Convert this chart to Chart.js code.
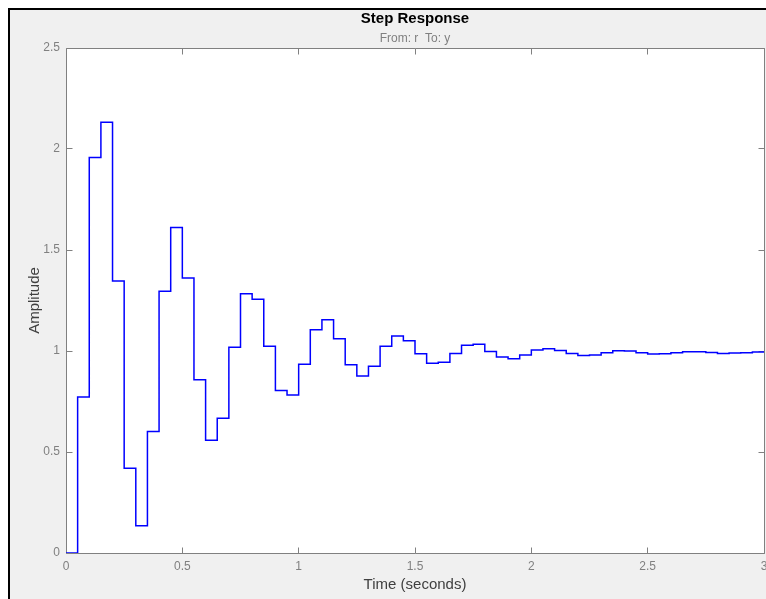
<!DOCTYPE html>
<html>
<head>
<meta charset="utf-8">
<style>
  html, body { margin: 0; padding: 0; background: #fff; }
  #wrap { width: 766px; height: 599px; }
</style>
</head>
<body>
<div id="wrap"><canvas id="stepChart" width="766" height="599"></canvas></div>
<script src="https://cdn.jsdelivr.net/npm/chart.js"></script>
<script>

// sample times (s) and step response amplitude
var timeValues = [
  0, 0.05, 0.1, 0.15, 0.2, 0.25, 0.3, 0.35, 0.4, 0.45,
  0.5, 0.55, 0.6, 0.65, 0.7, 0.75, 0.8, 0.85, 0.9, 0.95,
  1, 1.05, 1.1, 1.15, 1.2, 1.25, 1.3, 1.35, 1.4, 1.45,
  1.5, 1.55, 1.6, 1.65, 1.7, 1.75, 1.8, 1.85, 1.9, 1.95,
  2, 2.05, 2.1, 2.15, 2.2, 2.25, 2.3, 2.35, 2.4, 2.45,
  2.5, 2.55, 2.6, 2.65, 2.7, 2.75, 2.8, 2.85, 2.9, 2.95, 3
];
var amplitudeValues = [
  0, 0.772, 1.958, 2.133, 1.346, 0.420, 0.135, 0.601, 1.296, 1.611,
  1.362, 0.858, 0.558, 0.667, 1.019, 1.283, 1.256, 1.023, 0.805, 0.782,
  0.934, 1.105, 1.155, 1.061, 0.932, 0.876, 0.925, 1.023, 1.074, 1.051,
  0.987, 0.939, 0.944, 0.988, 1.029, 1.033, 0.998, 0.970, 0.962, 0.980,
  1.005, 1.011, 1.003, 0.988, 0.978, 0.980, 0.991, 1.001, 1.000, 0.991,
  0.985, 0.986, 0.991, 0.996, 0.996, 0.993, 0.988, 0.990, 0.991, 0.995, 0.995
];
var xTickValues = [0, 0.5, 1, 1.5, 2, 2.5, 3];
var yTickValues = [0, 0.5, 1, 1.5, 2, 2.5];

var titleText = 'Step Response';
var subtitleText = 'From: r  To: y';
var xTitleText = 'Time (seconds)';
var yTitleText = 'Amplitude';

var FONT = "'Liberation Sans', Arial, sans-serif";
var AXIS_GRAY = '#808080';

// figure background, black frame, white axes box, inward ticks
var framePlugin = {
  id: 'frame',
  beforeDraw: function(chart) {
    var ctx = chart.ctx, a = chart.chartArea;
    ctx.save();
    ctx.fillStyle = '#ffffff';
    ctx.fillRect(0, 0, chart.width, chart.height);
    ctx.fillStyle = '#f0f0f0';
    ctx.fillRect(8, 8, chart.width - 8, chart.height - 8);
    ctx.fillStyle = '#000000';
    ctx.fillRect(8, 8, chart.width - 8, 2);
    ctx.fillRect(8, 8, 2, chart.height - 8);
    ctx.fillStyle = '#ffffff';
    ctx.fillRect(a.left, a.top, a.right - a.left, a.bottom - a.top);
    ctx.restore();
  },
  beforeDatasetsDraw: function(chart) {
    var ctx = chart.ctx, a = chart.chartArea;
    var xs = chart.scales.x, ys = chart.scales.y;
    var L = Math.floor(a.left) + 0.5, R = Math.floor(a.right) + 0.5;
    var T = Math.floor(a.top) + 0.5, B = Math.floor(a.bottom) + 0.5;
    ctx.save();
    ctx.strokeStyle = AXIS_GRAY;
    ctx.lineWidth = 1;
    ctx.beginPath();
    ctx.rect(L, T, R - L, B - T);
    xs.ticks.forEach(function(t) {
      var px = Math.floor(xs.getPixelForValue(t.value)) + 0.5;
      ctx.moveTo(px, B); ctx.lineTo(px, B - 6);
      ctx.moveTo(px, T); ctx.lineTo(px, T + 6);
    });
    ys.ticks.forEach(function(t) {
      var py = Math.floor(ys.getPixelForValue(t.value)) + 0.5;
      ctx.moveTo(L, py); ctx.lineTo(L + 6, py);
      ctx.moveTo(R, py); ctx.lineTo(R - 6, py);
    });
    ctx.stroke();
    ctx.restore();
  }
};

var points = timeValues.map(function(t, i) {
  return { x: t, y: amplitudeValues[i] };
});

function plainLabel(v) { return String(v); }

new Chart(document.getElementById('stepChart'), {
  type: 'line',
  data: {
    datasets: [{
      data: points,
      stepped: true,
      borderColor: '#0000ff',
      borderWidth: 1.5,
      pointRadius: 0,
      fill: false
    }]
  },
  plugins: [framePlugin],
  options: {
    responsive: false,
    animation: false,
    devicePixelRatio: 1,
    layout: {
      autoPadding: false,
      padding: { left: 0, right: 2, top: 0, bottom: 0 }
    },
    plugins: {
      legend: { display: false },
      tooltip: { enabled: false },
      title: {
        display: true,
        fullSize: false,
        text: titleText,
        color: '#000000',
        font: { family: FONT, size: 15, weight: 'bold' },
        padding: { top: 9.9, bottom: 0 }
      },
      subtitle: {
        display: true,
        fullSize: false,
        text: subtitleText,
        color: '#808080',
        font: { family: FONT, size: 12 },
        padding: { top: 4, bottom: 1.7 }
      }
    },
    scales: {
      x: {
        type: 'linear',
        min: 0,
        max: 3,
        grid: { display: false, drawTicks: false },
        border: { display: false },
        afterBuildTicks: function(s) {
          s.ticks = xTickValues.map(function(v) { return { value: v }; });
        },
        afterFit: function(s) {
          s.height = 46;
          s.paddingLeft = 0;
          s.paddingRight = 0;
        },
        ticks: {
          color: AXIS_GRAY,
          font: { family: FONT, size: 12 },
          padding: 6,
          maxRotation: 0,
          callback: plainLabel
        },
        title: {
          display: true,
          text: xTitleText,
          color: '#404040',
          font: { family: FONT, size: 15 },
          padding: { top: 0, bottom: 5.5 }
        }
      },
      y: {
        type: 'linear',
        min: 0,
        max: 2.5,
        grid: { display: false, drawTicks: false },
        border: { display: false },
        afterBuildTicks: function(s) {
          s.ticks = yTickValues.map(function(v) { return { value: v }; });
        },
        afterFit: function(s) {
          s.width = 66;
          s.paddingTop = 0;
          s.paddingBottom = 0;
        },
        ticks: {
          color: AXIS_GRAY,
          font: { family: FONT, size: 12 },
          padding: 6,
          callback: plainLabel
        },
        title: {
          display: true,
          text: yTitleText,
          color: '#404040',
          font: { family: FONT, size: 15 },
          padding: { top: 25.4, bottom: 0 }
        }
      }
    }
  }
});
</script>
</body>
</html>
